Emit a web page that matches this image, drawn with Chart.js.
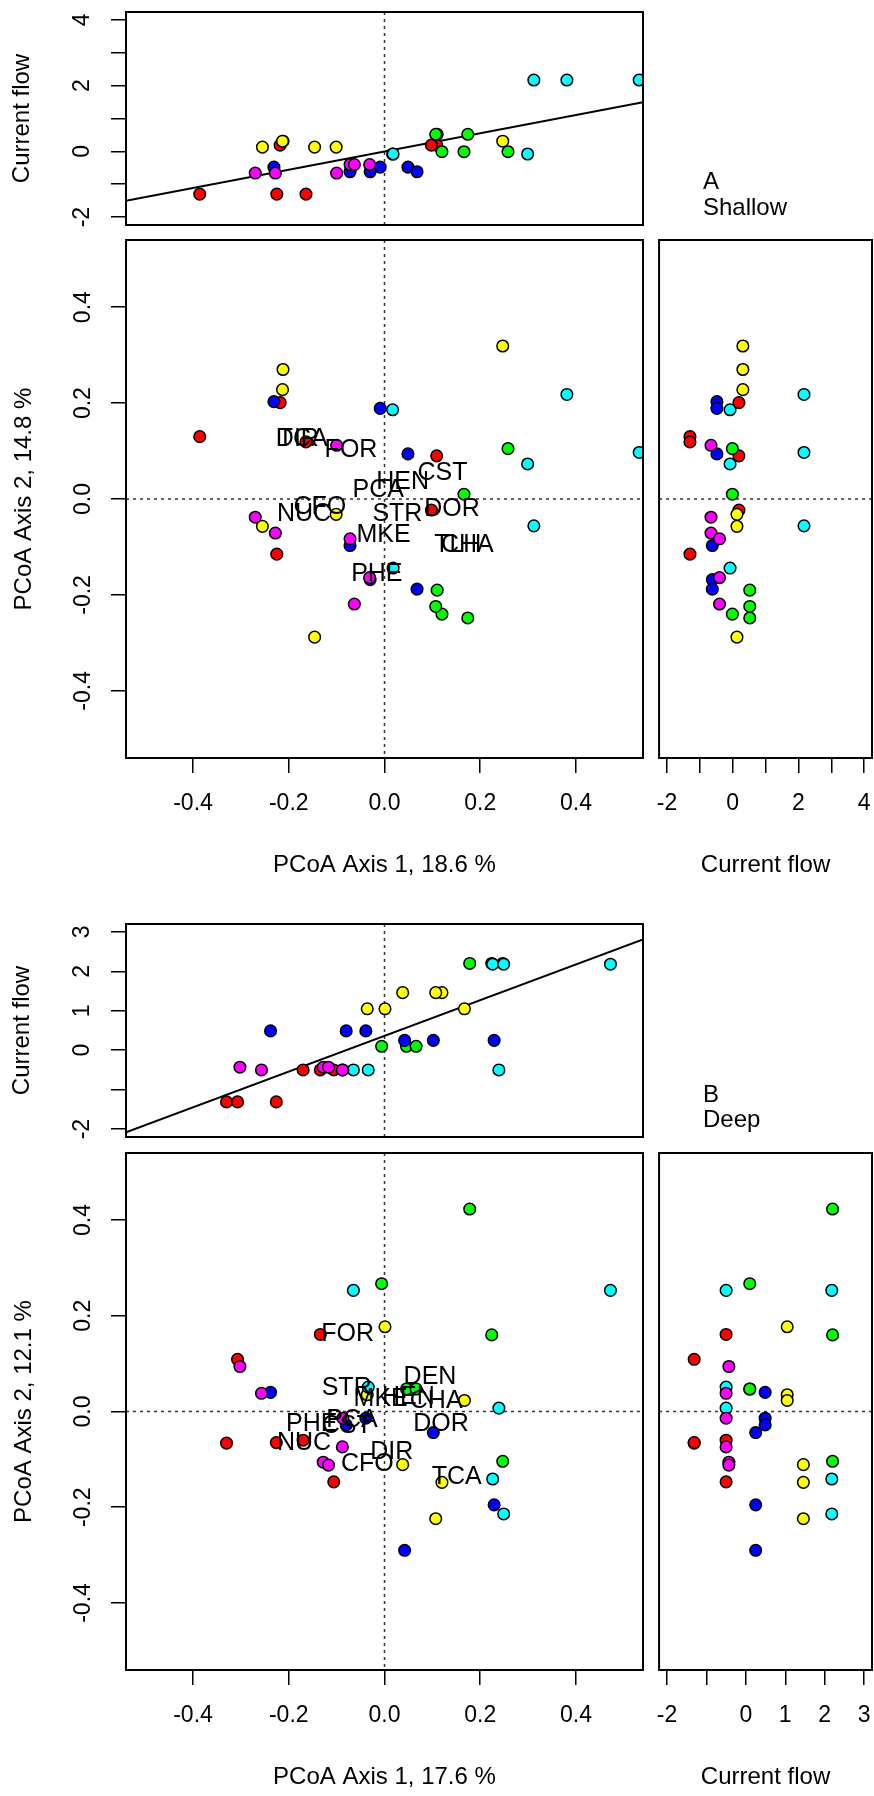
<!DOCTYPE html>
<html lang="en">
<head>
<meta charset="UTF-8">
<title>PCoA axes vs current flow</title>
<script src="https://cdn.jsdelivr.net/npm/chart.js"></script>
<style>
  html, body { margin: 0; padding: 0; background: #fff; }
  body { position: relative; width: 874px; height: 1796px; overflow: hidden; font-family: "Liberation Sans", Arial, sans-serif; }
  canvas { position: absolute; }
  .tag { position: absolute; left: 703px; font-size: 24px; line-height: 24px; color: #000; white-space: nowrap; }
</style>
</head>
<body>
<canvas id="topA"></canvas>
<canvas id="mainA"></canvas>
<canvas id="sideA"></canvas>
<canvas id="topB"></canvas>
<canvas id="mainB"></canvas>
<canvas id="sideB"></canvas>

<div class="tag" style="top:169px">A</div>
<div class="tag" style="top:195px">Shallow</div>
<div class="tag" style="top:1082px">B</div>
<div class="tag" style="top:1107px">Deep</div>

<script>
// R rainbow(6)
const COLS = ['#FF0000', '#FFFF00', '#00FF00', '#00FFFF', '#0000FF', '#FF00FF'];

// ---------- A: shallow ----------
const grpA  = [0,0,0,0,0,0, 1,1,1,1,1,1, 2,2,2,2,2,2, 3,3,3,3,3,3, 4,4,4,4,4,4, 5,5,5,5,5,5];
const pc1A  = [-0.386,-0.164,-0.225,-0.218,0.109,0.098,  0.247,-0.212,-0.213,-0.101,-0.255,-0.146,
               0.258,0.166,0.120,0.110,0.107,0.174,  0.381,0.532,0.312,0.017,0.299,0.018,
               -0.231,-0.009,0.049,-0.072,-0.030,0.068,  -0.100,-0.270,-0.228,-0.072,-0.063,-0.031];
const pc2A  = [0.130,0.119,-0.115,0.201,0.090,-0.023,  0.319,0.270,0.228,-0.032,-0.057,-0.288,
               0.105,0.010,-0.240,-0.190,-0.224,-0.248,  0.218,0.097,-0.056,0.186,0.073,-0.144,
               0.203,0.189,0.094,-0.097,-0.168,-0.188,  0.112,-0.038,-0.071,-0.083,-0.219,-0.164];
const flowA = [-1.30,-1.30,-1.30,0.19,0.19,0.19,  0.31,0.31,0.31,0.13,0.13,0.13,
               -0.01,-0.01,-0.01,0.52,0.52,0.52,  2.17,2.17,2.17,-0.08,-0.08,-0.08,
               -0.48,-0.48,-0.48,-0.62,-0.62,-0.62,  -0.66,-0.66,-0.66,-0.40,-0.40,-0.40];
const fitA = {a: -0.005, b: 2.78};   // abline(lm(flow ~ pc1))
const siteA  = ['DIR','TCA','FOR','CST','HEN','PCA','STR','DOR','NUC','CFO','MKE','TLH','CHA','PHE'];
const siteXA = [-0.182,-0.171,-0.070,0.121,0.038,-0.013,0.027,0.141,-0.168,-0.135,-0.002,0.153,0.173,-0.016];
const siteYA = [0.125,0.125,0.101,0.055,0.035,0.018,-0.031,-0.021,-0.031,-0.017,-0.075,-0.097,-0.097,-0.156];

// ---------- B: deep ----------
const grpB  = [0,0,0,0,0,0, 1,1,1,1,1,1, 2,2,2,2,2,2, 3,3,3,3,3,3, 4,4,4,4,4,4, 5,5,5,5,5,5];
const pc1B  = [-0.330,-0.307,-0.226,-0.170,-0.134,-0.106,  0.001,-0.036,0.167,0.038,0.120,0.107,
               0.178,0.224,0.247,-0.006,0.046,0.066,  -0.065,-0.034,0.239,0.472,0.226,0.249,
               -0.238,-0.039,-0.080,0.102,0.229,0.042,  -0.302,-0.128,-0.117,-0.257,-0.087,-0.088];
const pc2B  = [-0.066,0.109,-0.065,-0.060,0.161,-0.147,  0.177,0.035,0.023,-0.111,-0.148,-0.224,
               0.423,0.160,-0.104,0.267,0.047,0.047,  0.253,0.051,0.007,0.253,-0.141,-0.214,
               0.040,-0.014,-0.028,-0.044,-0.195,-0.290,  0.094,-0.106,-0.112,0.038,-0.014,-0.074];
const flowB = [-1.31,-1.31,-1.31,-0.50,-0.50,-0.50,  1.05,1.05,1.05,1.46,1.46,1.46,
               2.20,2.20,2.20,0.10,0.10,0.10,  -0.50,-0.50,-0.50,2.18,2.18,2.18,
               0.49,0.49,0.49,0.25,0.25,0.25,  -0.43,-0.43,-0.43,-0.50,-0.50,-0.50];
const fitB = {a: 0.365, b: 4.53};
const siteB  = ['FOR','DEN','STR','MKE','HEN','CHA','PHE','PCA','CST','DOR','NUC','DIR','CFO','TCA'];
const siteXB = [-0.077,0.095,-0.079,-0.008,0.050,0.108,-0.152,-0.068,-0.079,0.118,-0.168,0.015,-0.036,0.151];
const siteYB = [0.162,0.071,0.049,0.026,0.031,0.021,-0.026,-0.019,-0.030,-0.026,-0.067,-0.084,-0.109,-0.137];

// axis limits (R adds 4% to each end)
const pcLim    = [-0.54, 0.54];
const flowLimA = [-2.24, 4.24];
const flowLimB = [-2.2, 3.2];

// tick label formats
const fmtPC    = v => (Math.abs(v) < 1e-9 ? 0 : v).toFixed(1);
const fmtEven  = v => (Math.round(v) % 2 === 0 ? String(Math.round(v)) : '');
const fmtNoM1  = v => (Math.round(v) === -1 ? '' : String(Math.round(v)));

Chart.defaults.font.family = '"Liberation Sans", Arial, sans-serif';
Chart.defaults.color = '#000';

function extras(o) {
  return {
    id: 'extras',
    beforeDatasetsDraw(chart) {
      const {ctx, chartArea: a, scales: {x, y}} = chart;
      ctx.save();
      ctx.strokeStyle = '#333';
      ctx.lineWidth = 1.5;
      ctx.setLineDash([3, 4]);
      ctx.beginPath();
      if (o.vZero) {
        const px = x.getPixelForValue(0);
        ctx.moveTo(px, a.top); ctx.lineTo(px, a.bottom);
      }
      if (o.hZero) {
        const py = y.getPixelForValue(0);
        ctx.moveTo(a.left, py); ctx.lineTo(a.right, py);
      }
      ctx.stroke();
      ctx.restore();
    },
    afterDatasetsDraw(chart) {
      const {ctx, chartArea: a, scales: {x, y}} = chart;
      ctx.save();
      if (o.texts) {
        ctx.font = '25px "Liberation Sans", Arial, sans-serif';
        ctx.textAlign = 'center';
        ctx.textBaseline = 'middle';
        ctx.fillStyle = '#000';
        o.texts.names.forEach((t, i) => {
          ctx.fillText(t, x.getPixelForValue(o.texts.xs[i]), y.getPixelForValue(o.texts.ys[i]));
        });
      }
      ctx.strokeStyle = '#000';
      ctx.lineWidth = 2;
      ctx.strokeRect(a.left, a.top, a.right - a.left, a.bottom - a.top);
      ctx.restore();
    }
  };
}

function panel(id, box, o) {
  // margins around the plot box; the axes (shown or hidden) take exactly padL / padB
  const padL = o.showY ? box.L : 20;
  const padT = 60, padR = 20;
  const padB = o.showX ? 130 : 60;
  const cv = document.getElementById(id);
  cv.width = (box.R - box.L) + padL + padR;
  cv.height = (box.B - box.T) + padT + padB;
  cv.style.left = (box.L - padL) + 'px';
  cv.style.top = (box.T - padT) + 'px';

  const tickGrid = {drawOnChartArea: false, drawTicks: true, tickLength: 15, color: '#000', lineWidth: 1.5};

  const datasets = [{
    data: o.xs.map((v, i) => ({x: v, y: o.ys[i]})),
    pointRadius: 5.8,
    pointBackgroundColor: o.grp.map(g => COLS[g]),
    pointBorderColor: '#000',
    pointBorderWidth: 1.5,
    showLine: false
  }];
  if (o.fit) {
    datasets.push({
      type: 'line',
      data: o.xLim.map(v => ({x: v, y: o.fit.a + o.fit.b * v})),
      borderColor: '#000',
      borderWidth: 2,
      pointRadius: 0,
      fill: false
    });
  }

  new Chart(cv, {
    type: 'scatter',
    data: {datasets: datasets},
    options: {
      responsive: false,
      animation: false,
      devicePixelRatio: 1,
      events: [],
      layout: {padding: {left: 0, top: padT, right: padR, bottom: 0}},
      plugins: {legend: {display: false}, tooltip: {enabled: false}},
      scales: {
        x: {
          type: 'linear', min: o.xLim[0], max: o.xLim[1], display: o.showX,
          afterFit: s => { s.height = padB; },
          border: {display: false},
          grid: tickGrid,
          ticks: {stepSize: o.xStep, includeBounds: false, autoSkip: false, minRotation: 0, maxRotation: 0,
                  padding: 17, font: {size: 23}, callback: o.xFmt},
          title: {display: !!o.xTitle, text: o.xTitle, font: {size: 24}, padding: {top: 0, bottom: 8}}
        },
        y: {
          type: 'linear', min: o.yLim[0], max: o.yLim[1], display: o.showY,
          afterFit: s => { s.width = padL; },
          border: {display: false},
          grid: tickGrid,
          ticks: {stepSize: o.yStep, includeBounds: false, autoSkip: false, minRotation: 90, maxRotation: 90,
                  crossAlign: 'center', padding: o.yTickPad, font: {size: 23}, callback: o.yFmt},
          title: {display: !!o.yTitle, text: o.yTitle, font: {size: 24}, padding: {top: o.yTitlePad, bottom: 0}}
        }
      }
    },
    plugins: [extras(o)]
  });
}

// ---------- panel A ----------
panel('topA', {L: 126, T: 12, R: 643, B: 225}, {
  xs: pc1A, ys: flowA, grp: grpA, xLim: pcLim, yLim: flowLimA, yStep: 1, yFmt: fmtEven,
  showX: false, showY: true, yTickPad: 18, yTitle: 'Current flow', yTitlePad: 8,
  vZero: true, fit: fitA
});
panel('mainA', {L: 126, T: 240, R: 643, B: 758}, {
  xs: pc1A, ys: pc2A, grp: grpA, xLim: pcLim, yLim: pcLim, xStep: 0.2, yStep: 0.2, xFmt: fmtPC, yFmt: fmtPC,
  showX: true, showY: true, yTickPad: 8, xTitle: 'PCoA Axis 1, 18.6 %', yTitle: 'PCoA Axis 2, 14.8 %', yTitlePad: 10,
  vZero: true, hZero: true, texts: {names: siteA, xs: siteXA, ys: siteYA}
});
panel('sideA', {L: 659, T: 240, R: 872, B: 758}, {
  xs: flowA, ys: pc2A, grp: grpA, xLim: flowLimA, yLim: pcLim, xStep: 1, xFmt: fmtEven,
  showX: true, showY: false, xTitle: 'Current flow', hZero: true
});

// ---------- panel B ----------
panel('topB', {L: 126, T: 924, R: 643, B: 1137}, {
  xs: pc1B, ys: flowB, grp: grpB, xLim: pcLim, yLim: flowLimB, yStep: 1, yFmt: fmtNoM1,
  showX: false, showY: true, yTickPad: 18, yTitle: 'Current flow', yTitlePad: 8,
  vZero: true, fit: fitB
});
panel('mainB', {L: 126, T: 1153, R: 643, B: 1670}, {
  xs: pc1B, ys: pc2B, grp: grpB, xLim: pcLim, yLim: pcLim, xStep: 0.2, yStep: 0.2, xFmt: fmtPC, yFmt: fmtPC,
  showX: true, showY: true, yTickPad: 8, xTitle: 'PCoA Axis 1, 17.6 %', yTitle: 'PCoA Axis 2, 12.1 %', yTitlePad: 10,
  vZero: true, hZero: true, texts: {names: siteB, xs: siteXB, ys: siteYB}
});
panel('sideB', {L: 659, T: 1153, R: 872, B: 1670}, {
  xs: flowB, ys: pc2B, grp: grpB, xLim: flowLimB, yLim: pcLim, xStep: 1, xFmt: fmtNoM1,
  showX: true, showY: false, xTitle: 'Current flow', hZero: true
});
</script>
</body>
</html>
